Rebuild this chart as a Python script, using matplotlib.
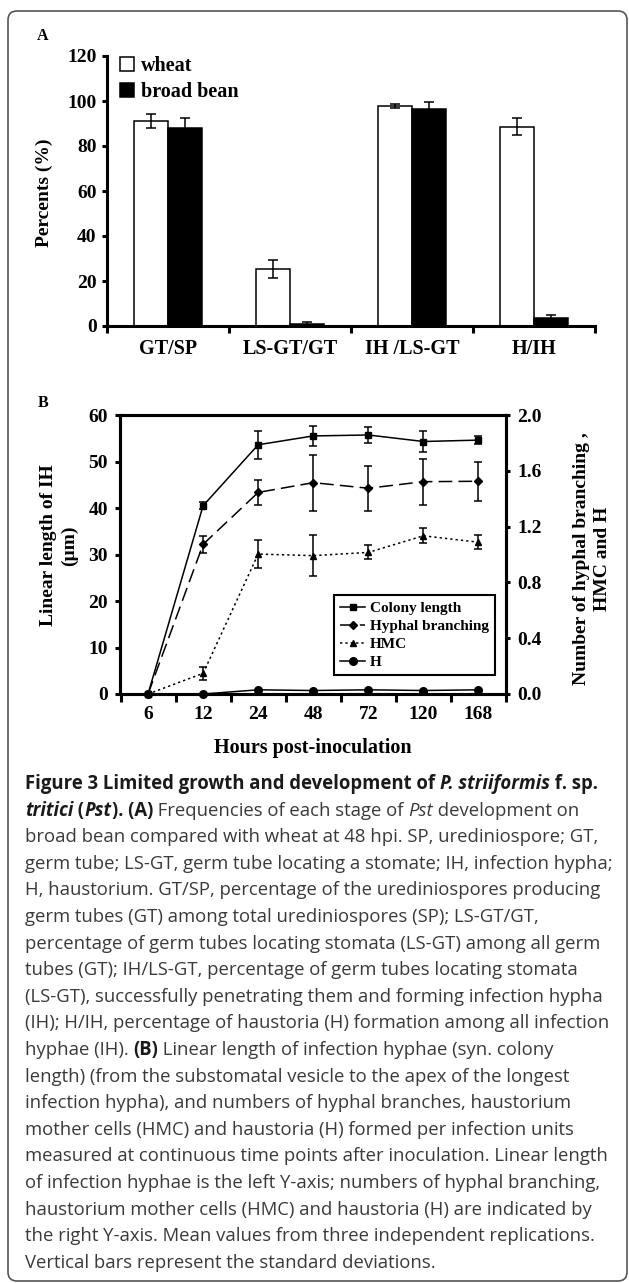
import matplotlib
matplotlib.use("Agg")
import matplotlib.pyplot as plt
import matplotlib.patches as mpatches
from matplotlib.font_manager import FontProperties
from matplotlib.transforms import IdentityTransform
from matplotlib.ticker import FormatStrFormatter
import numpy as np

# ---- panel A data (percent, mean and SD) ----
stages = ["GT/SP", "LS-GT/GT", "IH /LS-GT", "H/IH"]
wheat = [91.2, 25.2, 97.8, 88.6]
wheat_sd = [3.2, 4.0, 0.8, 3.8]
bean = [87.8, 1.1, 96.4, 3.4]
bean_sd = [4.5, 0.6, 3.3, 1.5]

# ---- panel B data ----
hours = ["6", "12", "24", "48", "72", "120", "168"]
colony = [0, 40.5, 53.6, 55.5, 55.7, 54.3, 54.6]          # left axis, um
colony_sd = [0, 0.8, 3.0, 2.2, 1.7, 2.3, 0.9]
branching = [0, 1.073, 1.445, 1.515, 1.475, 1.522, 1.525]  # right axis
branching_sd = [0, 0.06, 0.09, 0.2, 0.16, 0.165, 0.14]
hmc = [0, 0.148, 1.003, 0.992, 1.015, 1.134, 1.088]
hmc_sd = [0, 0.045, 0.1, 0.145, 0.05, 0.053, 0.05]
haust = [0, 0, 0.03, 0.025, 0.03, 0.025, 0.03]

caption = [
    [("Figure 3 Limited growth and development of ", "b"), ("P. striiformis", "bi"), (" f. sp.", "b")],
    [("tritici", "bi"), (" (", "b"), ("Pst", "bi"), ("). (A)", "b"),
     (" Frequencies of each stage of ", "n"), ("Pst", "i"), (" development on", "n")],
    [("broad bean compared with wheat at 48 hpi. SP, urediniospore; GT,", "n")],
    [("germ tube; LS-GT, germ tube locating a stomate; IH, infection hypha;", "n")],
    [("H, haustorium. GT/SP, percentage of the urediniospores producing", "n")],
    [("germ tubes (GT) among total urediniospores (SP); LS-GT/GT,", "n")],
    [("percentage of germ tubes locating stomata (LS-GT) among all germ", "n")],
    [("tubes (GT); IH/LS-GT, percentage of germ tubes locating stomata", "n")],
    [("(LS-GT), successfully penetrating them and forming infection hypha", "n")],
    [("(IH); H/IH, percentage of haustoria (H) formation among all infection", "n")],
    [("hyphae (IH). ", "n"), ("(B)", "b"), (" Linear length of infection hyphae (syn. colony", "n")],
    [("length) (from the substomatal vesicle to the apex of the longest", "n")],
    [("infection hypha), and numbers of hyphal branches, haustorium", "n")],
    [("mother cells (HMC) and haustoria (H) formed per infection units", "n")],
    [("measured at continuous time points after inoculation. Linear length", "n")],
    [("of infection hyphae is the left Y-axis; numbers of hyphal branching,", "n")],
    [("haustorium mother cells (HMC) and haustoria (H) are indicated by", "n")],
    [("the right Y-axis. Mean values from three independent replications.", "n")],
    [("Vertical bars represent the standard deviations.", "n")],
]

W, H = 629, 1283
plt.rcParams["font.family"] = "Liberation Serif"
plt.rcParams["font.weight"] = "bold"
plt.rcParams["axes.labelweight"] = "bold"

fig = plt.figure(figsize=(W / 100, H / 100), dpi=100)


def fx(x):
    return x / W


def fy(y):
    return 1 - y / H


# outer rounded frame
frame = mpatches.FancyBboxPatch((8, 2), 619, 1270, boxstyle="round,pad=0,rounding_size=9",
                                transform=IdentityTransform(), facecolor="none",
                                edgecolor="#555555", linewidth=1.2)
fig.patches.append(frame)

# ================= panel A =================
axA = fig.add_axes([fx(107.2), fy(326), (595 - 107.2) / W, (326 - 56) / H])
x = np.arange(len(stages))
bw = 0.28
axA.bar(x - bw / 2, wheat, bw, color="white", edgecolor="black", linewidth=1.1, label="wheat", zorder=2)
axA.bar(x + bw / 2, bean, bw, color="black", edgecolor="black", linewidth=1.1, label="broad bean", zorder=2)
axA.errorbar(x - bw / 2, wheat, yerr=wheat_sd, fmt="none", ecolor="black",
             elinewidth=1.1, capsize=3.5, capthick=1.1, zorder=3)
axA.errorbar(x + bw / 2, bean, yerr=bean_sd, fmt="none", ecolor="black",
             elinewidth=1.1, capsize=3.5, capthick=1.1, zorder=3)
axA.set_xlim(-0.5, 3.5)
axA.set_ylim(0, 120)
for s in ["top", "right"]:
    axA.spines[s].set_visible(False)
for s in ["left", "bottom"]:
    axA.spines[s].set_linewidth(2.2)
axA.set_yticks(range(0, 121, 20))
axA.set_xticks(np.arange(-0.5, 4, 1))
axA.set_xticklabels([])
axA.set_xticks(x, stages, minor=True)
axA.tick_params(axis="x", which="major", direction="out", length=5, width=2.2)
axA.tick_params(axis="x", which="minor", length=0, pad=9, labelsize=14.5)
axA.tick_params(axis="y", direction="out", length=3.6, width=2.2, pad=4, labelsize=14)
axA.legend(loc="upper left", bbox_to_anchor=((120 - 107.2) / 487.8, 1.0), frameon=False,
           fontsize=14.5, handlelength=0.7, handleheight=0.7, handletextpad=0.35,
           labelspacing=0.3, borderpad=0, borderaxespad=0)

fig.text(fx(43), fy(36), "A", fontsize=11.5, ha="center", va="center")
fig.text(fx(44), fy(193), "Percents (%)", rotation=90, ha="center", va="center", fontsize=14)

# ================= panel B =================
axB = fig.add_axes([fx(120.5), fy(694), (506 - 120.5) / W, (694 - 415) / H])
axR = axB.twinx()
t = np.arange(len(hours))

eb = dict(fmt="none", ecolor="black", elinewidth=1.1, capsize=3, capthick=1.1, zorder=3)
l1, = axB.plot(t, colony, "-", color="black", lw=1.1, marker="s", ms=5,
               label="Colony length", clip_on=False, zorder=4)
axB.errorbar(t, colony, yerr=colony_sd, **eb)
l2, = axR.plot(t, branching, color="black", lw=1.1, dashes=(9, 4), marker="D", ms=4.5,
               label="Hyphal branching", clip_on=False, zorder=4)
axR.errorbar(t, branching, yerr=branching_sd, **eb)
l3, = axR.plot(t, hmc, color="black", lw=1.1, dashes=(1.5, 2), marker="^", ms=5,
               label="HMC", clip_on=False, zorder=4)
axR.errorbar(t, hmc, yerr=hmc_sd, **eb)
l4, = axR.plot(t, haust, "-", color="black", lw=1.1, marker="o", ms=5.5,
               label="H", clip_on=False, zorder=4)

axB.set_xlim(-0.5, len(hours) - 0.5)
axB.set_ylim(0, 60)
axR.set_ylim(0, 2.0)
for a in (axB, axR):
    for s in a.spines.values():
        s.set_linewidth(2.2)
axB.set_yticks(range(0, 61, 10))
axR.set_yticks(np.arange(0, 2.01, 0.4))
axR.yaxis.set_major_formatter(FormatStrFormatter("%.1f"))
axB.set_xticks(np.arange(-0.5, len(hours), 1))
axB.set_xticklabels([])
axB.set_xticks(t, hours, minor=True)
axB.tick_params(axis="x", which="major", direction="out", length=5.5, width=2.2)
axB.tick_params(axis="x", which="minor", length=0, pad=8.8, labelsize=14)
axB.tick_params(axis="y", direction="out", length=3.6, width=2.2, pad=5.4, labelsize=14)
axR.tick_params(axis="y", direction="out", length=3.2, width=2.2, pad=4.7, labelsize=14)

leg = axR.legend([l1, l2, l3, l4], [l.get_label() for l in (l1, l2, l3, l4)],
                 loc="lower left", bbox_to_anchor=((334.3 - 120.5) / 385.5, (694 - 675) / 279),
                 borderaxespad=0, fontsize=11, frameon=True, fancybox=False, edgecolor="black",
                 framealpha=1, handlelength=1.6, handletextpad=0.35, labelspacing=0.28,
                 borderpad=0.4)
leg.get_frame().set_linewidth(1.5)

fig.text(fx(42.7), fy(402.7), "B", fontsize=11.5, ha="center", va="center")
fig.text(fx(59), fy(545.5), "Linear length of IH\n(\u00b5m)", rotation=90, ha="center",
         va="center", fontsize=14, linespacing=1.3, multialignment="center")
fig.text(fx(592), fy(558.5), "Number of hyphal branching ,\nHMC and H", rotation=90,
         ha="center", va="center", fontsize=14, linespacing=1.25, multialignment="center")
fig.text(fx(313), fy(748), "Hours post-inoculation", ha="center", va="center", fontsize=14.5)

# ================= caption =================
renderer = fig.canvas.get_renderer()
CAP_FONT = "Open Sans"
styles = {"n": ("normal", "normal", "#3a3a3a"), "b": ("bold", "normal", "#1a1a1a"),
          "i": ("normal", "italic", "#3a3a3a"), "bi": ("bold", "italic", "#1a1a1a")}


def prop(style, size):
    w, st, _ = styles[style]
    return FontProperties(family=CAP_FONT, weight=w, style=st, size=size)


def run_width(text, style, size):
    p = prop(style, size)
    w1 = renderer.get_text_width_height_descent("|" + text + "|", p, ismath=False)[0]
    w2 = renderer.get_text_width_height_descent("||", p, ismath=False)[0]
    return w1 - w2


# size the caption so the widest plain line spans the same width as in the figure
ref = caption[3][0][0]
cap_size = 10 * 589 / run_width(ref, "n", 10)

for k, line in enumerate(caption):
    xpos = 25.0
    base = 789 + 26.6 * k
    for text, style in line:
        fig.text(fx(xpos), fy(base), text, fontproperties=prop(style, cap_size),
                 color=styles[style][2], ha="left", va="baseline")
        xpos += run_width(text, style, cap_size)

fig.savefig("out.png", dpi=100)
